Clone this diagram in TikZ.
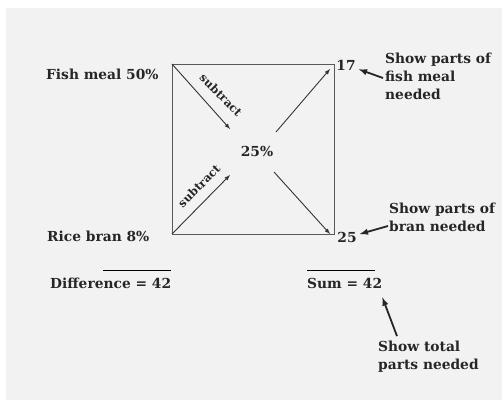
\documentclass[tikz,border=0pt]{standalone}
\usepackage{fontspec}
\setmainfont{DejaVu Serif}
\begin{document}
\begin{tikzpicture}[x=1pt,y=-1pt,>=latex,
  lbl/.style={font=\bfseries\fontsize{13.8}{18}\selectfont,text=black!85,inner sep=0pt},
  note/.style={lbl,align=left,anchor=west},
  tiny/.style={font=\bfseries\fontsize{11.5}{13}\selectfont,text=black!85,inner sep=0pt},
  thinarr/.style={->,line width=0.9pt,black!80},
  fatarr/.style={->,line width=1.8pt,black!85}]
\useasboundingbox (0,0) rectangle (502,404);
\fill[black!5] (6,8) rectangle (502,400);
% square
\coordinate (tl) at (172,64);
\coordinate (tr) at (334,64);
\coordinate (br) at (334,234);
\coordinate (bl) at (172,234);
\draw[line width=0.8pt,black!65] (tl) -- (tr) -- (br) -- (bl) -- cycle;
\node[lbl] (mid) at (257,151) {25\%};
\coordinate (inTL) at (230,129);
\coordinate (inBL) at (230,175);
\coordinate (outTR) at (276,132);
\coordinate (outBR) at (274,172);
\draw[thinarr] (tl) -- (inTL);
\draw[thinarr] (bl) -- (inBL);
\draw[thinarr] (outTR) -- (330,69);
\draw[thinarr] (outBR) -- (330,234);
\node[tiny,rotate=-45] (subA) at (221,95) {subtract};
\node[tiny,rotate=45] (subB) at (199,186) {subtract};
% left side
\node[lbl,anchor=west] (fish) at (46,74) {Fish meal 50\%};
\node[lbl,anchor=west] (rice) at (47,236) {Rice bran 8\%};
\node[lbl,anchor=west] (diff) at (50,283) {Difference = 42};
\draw[line width=0.8pt] ([shift={(-68,-7)}]diff.north east) -- ([shift={(0,-7)}]diff.north east);
% right side
\node[lbl] (n17) at (346,65) {17};
\node[lbl] (n25) at (347,237) {25};
\node[lbl,anchor=west] (sum) at (307,283) {Sum = 42};
\draw[line width=0.8pt] ([shift={(0,-7)}]sum.north west) -- ([shift={(68,-7)}]sum.north west);
\node[note] (fishnote) at (385,76) {Show parts of\\fish meal\\needed};
\node[note] (brannote) at (389,217) {Show parts of\\bran needed};
\node[note] (totnote) at (378,357) {Show total\\parts needed};
\draw[fatarr] ([shift={(-2,2)}]fishnote.west) -- ([shift={(3,-1)}]n17.south east);
\draw[fatarr] ([shift={(-1,9)}]brannote.west) -- ([shift={(3,-3)}]n25.east);
\draw[fatarr] ([shift={(19,-5)}]totnote.north west) -- ([shift={(0,9)}]sum.south east);
\end{tikzpicture}
\end{document}
